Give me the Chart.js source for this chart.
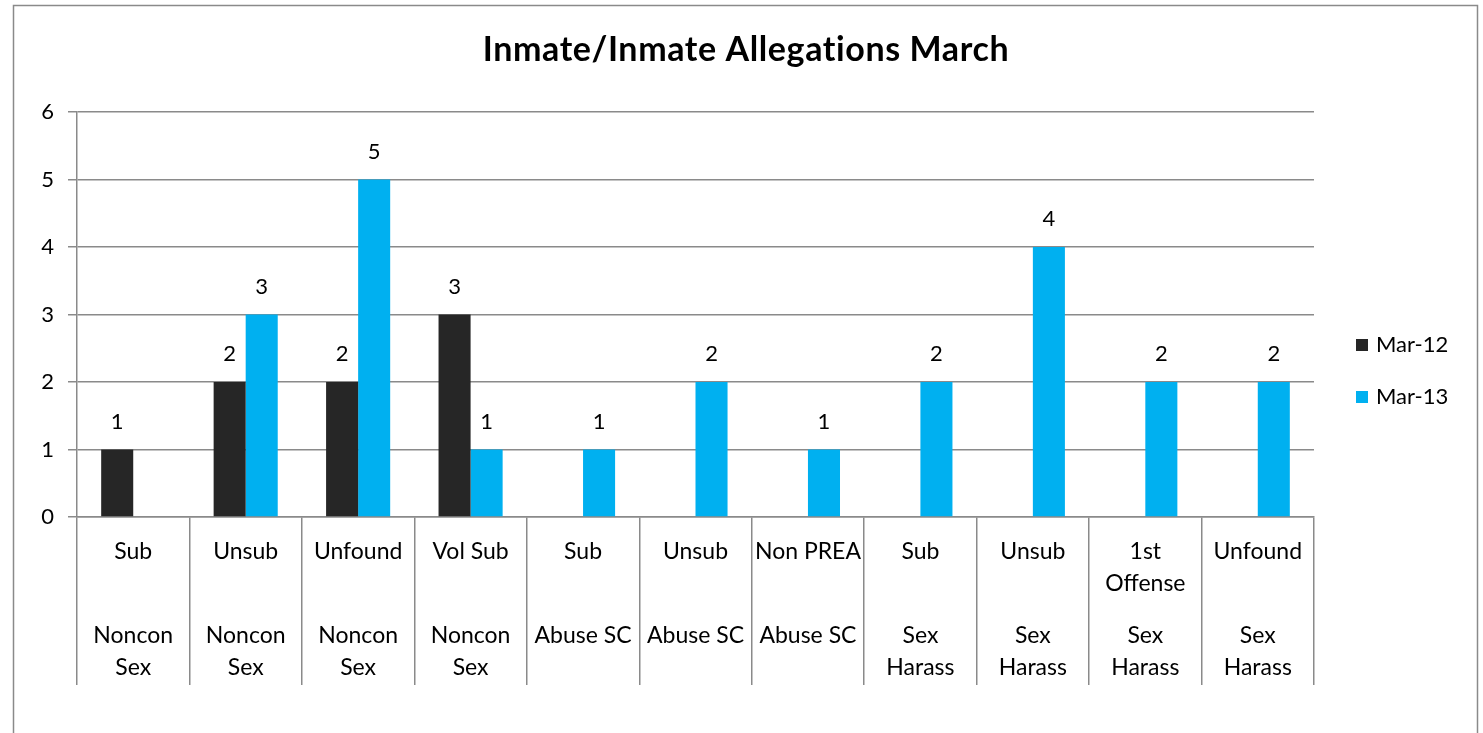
<!DOCTYPE html>
<html><head><meta charset="utf-8">
<script src="https://cdn.jsdelivr.net/npm/chart.js@4/dist/chart.umd.min.js"></script>
<style>html,body{margin:0;padding:0;background:#fff}#wrap{width:1483px;height:733px}</style>
</head><body><div id="wrap"><canvas id="c" width="1483" height="733"></canvas></div>
<script>
const titleText = 'Inmate/Inmate Allegations March';
const subLabels = ['Sub','Unsub','Unfound','Vol Sub','Sub','Unsub','Non PREA','Sub','Unsub',['1st','Offense'],'Unfound'];
const groupLabels = [['Noncon','Sex'],['Noncon','Sex'],['Noncon','Sex'],['Noncon','Sex'],['Abuse SC'],['Abuse SC'],['Abuse SC'],['Sex','Harass'],['Sex','Harass'],['Sex','Harass'],['Sex','Harass']];
const mar12 = [1,2,2,3,null,null,null,null,null,null,null];
const mar13 = [null,3,5,1,1,2,1,2,4,2,2];
const seriesNames = ['Mar-12','Mar-13'];
const yTicks = [0,1,2,3,4,5,6];

const FONT = 'Lato, "Open Sans", sans-serif';
const GRAY = '#8a8a8a';

const deco = {
  id:'deco',
  beforeDraw(chart){
    const ctx = chart.ctx;
    ctx.save();
    ctx.fillStyle='#fff'; ctx.fillRect(0,0,chart.width,chart.height);
    ctx.strokeStyle=GRAY; ctx.lineWidth=1.5;
    ctx.beginPath();
    ctx.moveTo(13.5,740); ctx.lineTo(13.5,5.5); ctx.lineTo(1477.5,5.5); ctx.lineTo(1477.5,740);
    ctx.stroke();
    ctx.restore();
  },
  afterDraw(chart){
    const ctx = chart.ctx;
    const xs = chart.scales.x;
    ctx.save();
    // title
    ctx.fillStyle='#000';
    ctx.font='bold 34px '+FONT;
    ctx.textAlign='center'; ctx.textBaseline='middle';
    try { ctx.letterSpacing='0.6px'; } catch(e){}
    ctx.fillText(titleText, 746, 50);
    try { ctx.letterSpacing='0px'; } catch(e){}
    // category labels
    ctx.font='23px '+FONT;
    subLabels.forEach((lab,i)=>{
      const x = xs.getPixelForValue(i);
      const lines = Array.isArray(lab)?lab:[lab];
      lines.forEach((t,j)=>ctx.fillText(t, x, 552 + j*32));
      groupLabels[i].forEach((t,j)=>ctx.fillText(t, x, 636 + j*32));
    });
    // data labels
    ctx.font='22px '+FONT;
    chart.data.datasets.forEach((ds,di)=>{
      const meta = chart.getDatasetMeta(di);
      meta.data.forEach((el,i)=>{
        const v = ds.data[i];
        if(v==null) return;
        ctx.fillText(String(v), el.x, el.y - 28);
      });
    });
    // legend
    chart.data.datasets.forEach((ds,di)=>{
      const y = 345 + di*52;
      ctx.fillStyle = ds.backgroundColor;
      ctx.fillRect(1356, y-6, 12, 12);
      ctx.fillStyle='#000';
      ctx.textAlign='left';
      ctx.fillText(ds.label, 1376, y);
    });
    ctx.restore();
  }
};

new Chart(document.getElementById('c'), {
  type:'bar',
  data:{
    labels: subLabels,
    datasets:[
      {label:seriesNames[0], data:mar12, backgroundColor:'#262626', categoryPercentage:0.57, barPercentage:1},
      {label:seriesNames[1], data:mar13, backgroundColor:'#00B0F0', categoryPercentage:0.57, barPercentage:1}
    ]
  },
  options:{
    responsive:false, animation:false, devicePixelRatio:1,
    layout:{padding:{left:0, top:112, right:1483-1314, bottom:0}},
    plugins:{legend:{display:false}, title:{display:false}, tooltip:{enabled:false}},
    scales:{
      x:{
        offset:true,
        ticks:{display:false},
        grid:{offset:true, drawOnChartArea:false, drawTicks:true, tickLength:168, color:GRAY, lineWidth:1.5},
        border:{display:true, color:GRAY, width:1.5},
        afterFit(s){ s.height = 733-517; }
      },
      y:{
        min:0, max:6,
        afterBuildTicks(s){ s.ticks = yTicks.map(v=>({value:v})); },
        ticks:{font:{family:FONT, size:22}, color:'#000', padding:14},
        grid:{color:GRAY, lineWidth:1.5, tickLength:9},
        border:{display:true, color:GRAY, width:1.5},
        afterFit(s){ s.width = 77; }
      }
    }
  },
  plugins:[deco]
});
</script>
</body></html>
